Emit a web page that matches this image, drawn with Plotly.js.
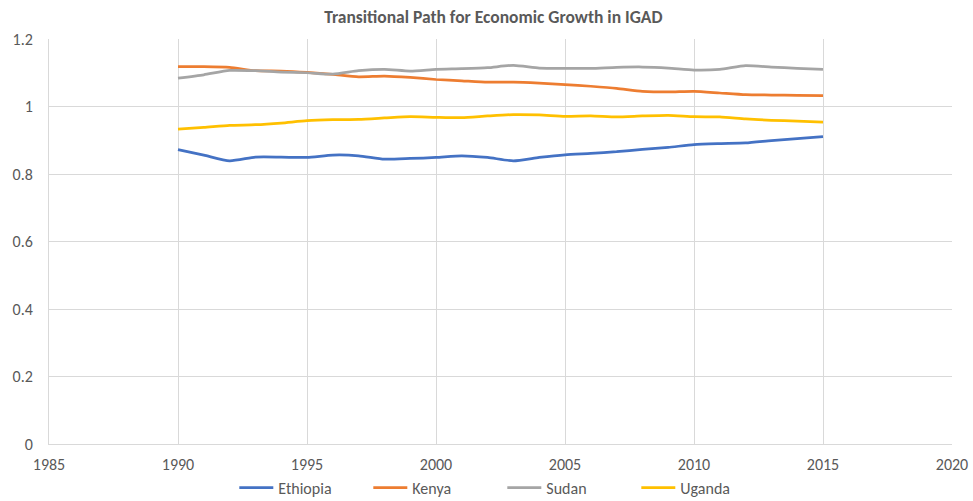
<!DOCTYPE html>
<html>
<head>
<meta charset="utf-8">
<script src="https://cdn.plot.ly/plotly-3.0.1.min.js"></script>
<style>html,body{margin:0;padding:0;background:#fff;}#chart{width:973px;height:501px;}</style>
</head>
<body>
<div id="chart"></div>
<script>
const years = [1990,1991,1992,1993,1994,1995,1996,1997,1998,1999,2000,2001,2002,2003,2004,2005,2006,2007,2008,2009,2010,2011,2012,2013,2014,2015];
const ethiopia = [0.872,0.856,0.839,0.850,0.850,0.849,0.856,0.854,0.844,0.846,0.849,0.854,0.849,0.839,0.849,0.857,0.861,0.866,0.873,0.879,0.887,0.890,0.892,0.899,0.905,0.911];
const kenya = [1.118,1.118,1.116,1.106,1.105,1.101,1.095,1.088,1.090,1.086,1.080,1.076,1.072,1.072,1.069,1.065,1.060,1.054,1.045,1.043,1.045,1.040,1.035,1.034,1.033,1.032];
const sudan = [1.084,1.094,1.107,1.106,1.102,1.100,1.096,1.106,1.110,1.105,1.110,1.112,1.115,1.122,1.114,1.113,1.113,1.116,1.117,1.114,1.108,1.110,1.121,1.117,1.113,1.110];
const uganda = [0.933,0.938,0.944,0.946,0.951,0.958,0.961,0.962,0.966,0.970,0.968,0.967,0.972,0.976,0.975,0.971,0.972,0.969,0.972,0.974,0.970,0.969,0.963,0.959,0.957,0.954];
const names = ['Ethiopia','Kenya','Sudan','Uganda'];
const colors = ['#4472C4','#ED7D31','#A5A5A5','#FFC000'];
const series = [ethiopia, kenya, sudan, uganda];
const xTicks = [1985,1990,1995,2000,2005,2010,2015,2020];
const yTicks = [0,0.2,0.4,0.6,0.8,1,1.2];
const yTickText = ['0','0.2','0.4','0.6','0.8','1','1.2'];

const traces = series.map((s,i)=>({
  x: years, y: s, name: names[i], type:'scatter', mode:'lines',
  line:{color:colors[i], width:2.75, shape:'spline', smoothing:0.6}
}));
const fontFam = 'Carlito, Calibri, "Open Sans", "Liberation Sans", sans-serif';
const layout = {
  width:973, height:501,
  margin:{l:49, r:21, t:39, b:57, autoexpand:false},
  paper_bgcolor:'#fff', plot_bgcolor:'#fff',
  font:{family:fontFam, color:'#595959', size:16},
  title:{text:'<b>Transitional Path for Economic Growth in IGAD</b>', font:{size:17.5, color:'#595959', family:fontFam}, x:0.507, xanchor:'center', y:0.966, yanchor:'middle'},
  xaxis:{range:[1985,2020], tickvals:xTicks, ticktext:xTicks.map(String), showgrid:true, gridcolor:'#d9d9d9', gridwidth:1,
    showline:true, linecolor:'#d9d9d9', linewidth:1, zeroline:false, ticks:'', ticklen:0, ticklabelstandoff:6, tickfont:{size:16, color:'#595959'}, fixedrange:true},
  yaxis:{range:[0,1.2], tickvals:yTicks, ticktext:yTickText, showgrid:true, gridcolor:'#d9d9d9', gridwidth:1,
    showline:true, linecolor:'#d9d9d9', zeroline:false, ticks:'', ticklabelstandoff:12, tickfont:{size:16, color:'#595959'}, fixedrange:true},
  showlegend:true,
  legend:{orientation:'h', x:0.502, xanchor:'center', y:-0.066, yanchor:'top', font:{size:16, color:'#595959'}, entrywidth:85, entrywidthmode:'pixels', itemwidth:34, tracegroupgap:0},
};
Plotly.newPlot('chart', traces, layout, {displayModeBar:false, staticPlot:true});
</script>
</body>
</html>
